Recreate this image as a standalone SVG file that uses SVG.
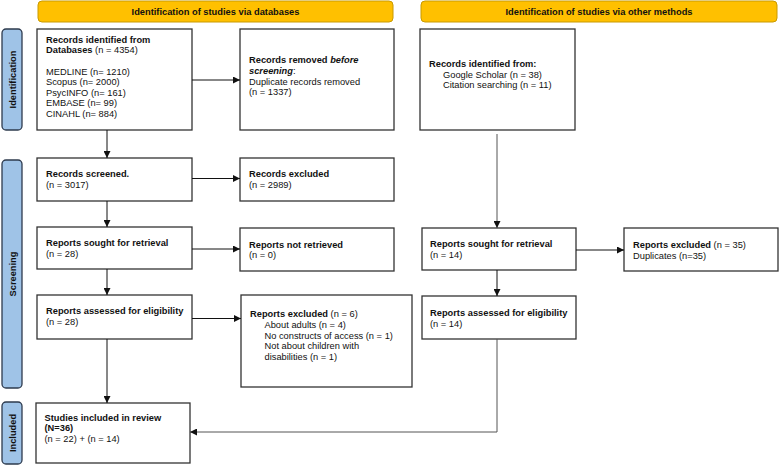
<svg xmlns="http://www.w3.org/2000/svg" width="779" height="465" viewBox="0 0 779 465">
<defs>
<marker id="ah" viewBox="0 0 10 10" refX="10" refY="5" markerWidth="7" markerHeight="7" orient="auto" markerUnits="userSpaceOnUse">
<path d="M0,0 L10,5 L0,10 z" fill="#111"/>
</marker>
</defs>
<style>
text{font-family:"Liberation Sans",Arial,sans-serif;font-size:9.3px;fill:#111}
.b{font-weight:bold}
.bi{font-weight:bold;font-style:italic}
.box{fill:#fff;stroke:#333;stroke-width:1.3}
.hdr{fill:#FFC000;stroke:#c99a00;stroke-width:1}
.side{fill:#9fc3e7;stroke:#2e3b4e;stroke-width:1.3}
.hdrt{font-weight:bold;text-anchor:middle}
.sidet{font-weight:bold;text-anchor:middle}
.c{fill:none;stroke:#111;stroke-width:1}
.g{fill:none;stroke:#555;stroke-width:1}
</style>
<rect width="779" height="465" fill="#fff"/>

<g id="header-databases">
<rect class="hdr" x="38" y="1" width="355" height="21" rx="4"/>
<text class="hdrt" x="215.5" y="14.8">Identification of studies via databases</text>
</g>
<g id="header-other">
<rect class="hdr" x="421" y="1" width="356" height="21" rx="4"/>
<text class="hdrt" x="599" y="14.8">Identification of studies via other methods</text>
</g>

<g id="side-identification">
<rect class="side" x="2" y="29" width="20" height="101" rx="4"/>
<text class="sidet" transform="translate(15.5,79.5) rotate(-90)">Identification</text>
</g>
<g id="side-screening">
<rect class="side" x="2" y="160" width="20" height="228" rx="4"/>
<text class="sidet" transform="translate(15.5,274) rotate(-90)">Screening</text>
</g>
<g id="side-included">
<rect class="side" x="2" y="402" width="20" height="62" rx="4"/>
<text class="sidet" transform="translate(15.5,433) rotate(-90)">Included</text>
</g>

<g id="records-identified">
<rect class="box" x="37" y="29" width="155" height="101"/>
<text x="46" y="42.5" class="b">Records identified from</text>
<text x="46" y="53"><tspan class="b">Databases</tspan> (n = 4354)</text>
<text x="46" y="74.5">MEDLINE (n= 1210)</text>
<text x="46" y="85">Scopus (n= 2000)</text>
<text x="46" y="95.5">PsycINFO (n= 161)</text>
<text x="46" y="106">EMBASE (n= 99)</text>
<text x="46" y="116.5">CINAHL (n= 884)</text>
</g>

<g id="records-removed">
<rect class="box" x="240" y="29" width="154" height="101"/>
<text x="249" y="63.3"><tspan class="b">Records removed </tspan><tspan class="bi">before</tspan></text>
<text x="249" y="74"><tspan class="bi">screening</tspan>:</text>
<text x="249" y="84.5">Duplicate records removed</text>
<text x="249" y="95">(n = 1337)</text>
</g>

<g id="other-records-identified">
<rect class="box" x="420" y="29" width="155" height="101"/>
<text x="429" y="67" class="b">Records identified from:</text>
<text x="443" y="77.5">Google Scholar (n = 38)</text>
<text x="443" y="88">Citation searching (n = 11)</text>
</g>

<g id="records-screened">
<rect class="box" x="37" y="158" width="155" height="43"/>
<text x="46" y="176.5" class="b">Records screened.</text>
<text x="46" y="187.5">(n = 3017)</text>
</g>

<g id="records-excluded">
<rect class="box" x="240" y="158" width="154" height="43"/>
<text x="249" y="176.5" class="b">Records excluded</text>
<text x="249" y="187.5">(n = 2989)</text>
</g>

<g id="reports-sought">
<rect class="box" x="37" y="227" width="155" height="42"/>
<text x="46" y="246" class="b">Reports sought for retrieval</text>
<text x="46" y="256.7">(n = 28)</text>
</g>

<g id="reports-not-retrieved">
<rect class="box" x="240" y="228" width="154" height="43"/>
<text x="249" y="247.5" class="b">Reports not retrieved</text>
<text x="249" y="258">(n = 0)</text>
</g>

<g id="other-reports-sought">
<rect class="box" x="422" y="228" width="154" height="42"/>
<text x="430" y="247.3" class="b">Reports sought for retrieval</text>
<text x="430" y="258">(n = 14)</text>
</g>

<g id="other-reports-excluded">
<rect class="box" x="624" y="228" width="154" height="43"/>
<text x="633" y="247.7"><tspan class="b">Reports excluded</tspan> (n = 35)</text>
<text x="633" y="258.5">Duplicates (n=35)</text>
</g>

<g id="reports-assessed">
<rect class="box" x="37" y="295" width="155" height="44"/>
<text x="46" y="314.3" class="b">Reports assessed for eligibility</text>
<text x="46" y="325">(n = 28)</text>
</g>

<g id="reports-excluded">
<rect class="box" x="241" y="295" width="171" height="92"/>
<text x="250" y="317.3"><tspan class="b">Reports excluded</tspan> (n = 6)</text>
<text x="264.5" y="328">About adults (n = 4)</text>
<text x="264.5" y="338.5">No constructs of access (n = 1)</text>
<text x="264.5" y="349">Not about children with</text>
<text x="264.5" y="359.5">disabilities (n = 1)</text>
</g>

<g id="other-reports-assessed">
<rect class="box" x="422" y="296" width="154" height="43"/>
<text x="430" y="315.7" class="b">Reports assessed for eligibility</text>
<text x="430" y="326.5">(n = 14)</text>
</g>

<g id="studies-included">
<rect class="box" x="36" y="403" width="154" height="60"/>
<text x="44.5" y="420.7" class="b">Studies included in review</text>
<text x="44.5" y="430.7" class="b">(N=36)</text>
<text x="44.5" y="441.5">(n = 22) + (n = 14)</text>
</g>

<g id="connectors">
<line class="c" x1="192" y1="80" x2="240" y2="80" marker-end="url(#ah)"/>
<line class="c" x1="107" y1="130" x2="107" y2="158" marker-end="url(#ah)"/>
<line class="c" x1="192" y1="178.5" x2="240" y2="178.5" marker-end="url(#ah)"/>
<line class="c" x1="107" y1="201" x2="107" y2="227" marker-end="url(#ah)"/>
<line class="c" x1="192" y1="249" x2="240" y2="249" marker-end="url(#ah)"/>
<line class="c" x1="107" y1="269" x2="107" y2="295" marker-end="url(#ah)"/>
<line class="c" x1="192" y1="318.5" x2="241" y2="318.5" marker-end="url(#ah)"/>
<line class="c" x1="107" y1="339" x2="107" y2="403" marker-end="url(#ah)"/>
<line class="g" x1="497" y1="134" x2="497" y2="228" marker-end="url(#ah)"/>
<line class="c" x1="576" y1="250" x2="624" y2="250" marker-end="url(#ah)"/>
<line class="c" x1="497" y1="270" x2="497" y2="296" marker-end="url(#ah)"/>
<polyline class="g" points="497,339 497,432 190,432" marker-end="url(#ah)"/>
</g>
</svg>
